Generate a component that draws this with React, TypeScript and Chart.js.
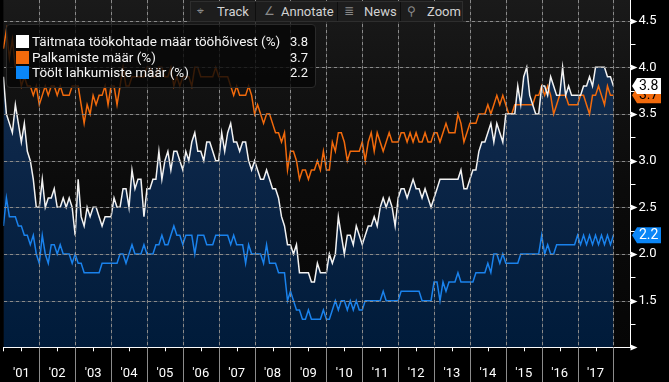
import React, { useEffect, useRef } from 'react';
import { Chart, registerables } from 'chart.js';

Chart.register(...registerables);

// Monthly series, Jan 2001 onward (index = month number)
const openings = [
  3.9, 3.5, 3.4, 3.3, 3.6, 3.4, 3.2, 3.4, 3.1, 3.0,
  2.8, 2.5, 2.5, 2.8, 2.5, 2.6, 2.6, 2.7, 2.5, 2.5,
  2.6, 2.5, 2.6, 2.5, 2.2, 2.8, 2.4, 2.3, 2.5, 2.4,
  2.5, 2.5, 2.4, 2.3, 2.4, 2.4, 2.4, 2.6, 2.5, 2.5,
  2.7, 2.7, 2.5, 2.9, 2.7, 2.8, 2.8, 2.4, 2.7, 2.7,
  2.8, 2.8, 3.1, 2.8, 3.0, 3.1, 2.9, 3.1, 3.1, 3.0,
  2.9, 3.1, 3.0, 3.2, 3.3, 3.1, 3.1, 3.0, 3.2, 3.2,
  3.1, 3.0, 3.0, 3.3, 3.1, 3.3, 3.4, 3.2, 3.2, 3.1,
  3.2, 3.2, 3.0, 2.9, 3.0, 2.9, 2.8, 2.8, 2.9, 2.8,
  2.7, 2.7, 2.6, 2.4, 2.3, 2.1, 2.1, 2.0, 2.1, 1.8,
  1.8, 1.8, 1.8, 1.7, 1.7, 1.9, 1.8, 1.8, 1.8, 2.0,
  1.9, 2.0, 2.4, 2.2, 2.0, 2.2, 2.2, 2.1, 2.3, 2.2,
  2.1, 2.2, 2.3, 2.3, 2.4, 2.3, 2.5, 2.6, 2.5, 2.6,
  2.5, 2.3, 2.6, 2.7, 2.7, 2.6, 2.7, 2.8, 2.7, 2.7,
  2.6, 2.7, 2.6, 2.5, 2.6, 2.7, 2.8, 2.8, 2.8, 2.8,
  2.8, 2.8, 2.8, 2.9, 2.7, 2.7, 2.8, 2.9, 2.9, 3.1,
  3.2, 3.2, 3.3, 3.4, 3.2, 3.4, 3.3, 3.2, 3.5, 3.5,
  3.5, 3.5, 3.8, 3.6, 3.9, 4.0, 3.7, 3.6, 3.5, 3.5,
  3.8, 3.8, 3.7, 3.9, 3.8, 3.7, 3.7, 4.0, 3.7, 3.8,
  3.7, 3.7, 3.7, 3.7, 3.8, 3.8, 3.9, 3.8, 4.0, 4.0,
  4.0, 4.0, 3.9, 3.9, 3.8,
];

const hires = [
  4.2, 4.4, 4.1, 4.3, 4.0, 4.0, 3.8, 3.9, 3.8, 3.8,
  3.7, 3.8, 3.6, 3.7, 3.8, 3.7, 3.8, 3.8, 3.7, 3.8,
  3.7, 3.7, 3.7, 3.8, 3.8, 3.8, 3.6, 3.4, 3.6, 3.5,
  3.7, 3.6, 3.7, 3.7, 3.8, 3.6, 3.8, 3.8, 3.6, 3.8,
  4.0, 3.8, 3.8, 3.9, 3.9, 3.9, 3.9, 3.9, 4.0, 4.0,
  3.9, 3.9, 4.0, 4.0, 3.9, 3.9, 4.0, 3.8, 3.9, 3.8,
  3.9, 3.9, 3.9, 3.8, 4.0, 4.0, 3.9, 3.9, 3.9, 3.9,
  3.9, 4.0, 3.9, 3.9, 3.9, 3.9, 3.8, 3.7, 3.8, 3.7,
  3.7, 3.7, 3.8, 3.7, 3.5, 3.6, 3.5, 3.4, 3.5, 3.5,
  3.4, 3.3, 3.3, 3.2, 3.3, 2.9, 3.1, 3.1, 3.0, 2.8,
  2.9, 2.9, 2.8, 2.9, 2.9, 3.0, 2.9, 3.1, 2.9, 2.9,
  3.2, 3.1, 3.3, 3.3, 3.2, 3.0, 3.1, 3.1, 3.1, 3.1,
  3.2, 3.0, 3.2, 3.3, 3.1, 3.3, 3.2, 3.1, 3.2, 3.3,
  3.2, 3.2, 3.2, 3.3, 3.3, 3.2, 3.3, 3.2, 3.3, 3.2,
  3.2, 3.3, 3.2, 3.2, 3.3, 3.3, 3.2, 3.3, 3.4, 3.3,
  3.3, 3.3, 3.5, 3.4, 3.2, 3.3, 3.4, 3.4, 3.4, 3.5,
  3.5, 3.5, 3.6, 3.5, 3.6, 3.7, 3.6, 3.7, 3.6, 3.5,
  3.5, 3.6, 3.6, 3.6, 3.6, 3.6, 3.6, 3.6, 3.7, 3.7,
  3.8, 3.7, 3.8, 3.7, 3.5, 3.6, 3.7, 3.7, 3.7, 3.6,
  3.6, 3.6, 3.6, 3.7, 3.7, 3.6, 3.5, 3.7, 3.7, 3.8,
  3.7, 3.6, 3.8, 3.7, 3.7,
];

const quits = [
  2.3, 2.6, 2.4, 2.4, 2.4, 2.3, 2.3, 2.2, 2.2, 2.1,
  2.2, 2.0, 1.9, 2.2, 2.0, 1.9, 2.1, 2.1, 2.0, 2.1,
  2.0, 2.0, 2.0, 1.9, 2.0, 1.9, 1.9, 1.8, 1.8, 1.8,
  1.8, 1.8, 1.8, 1.9, 1.9, 1.9, 1.9, 1.9, 1.9, 2.0,
  2.0, 1.9, 2.0, 2.1, 2.0, 2.0, 2.0, 2.1, 2.0, 2.0,
  2.0, 2.1, 2.1, 2.2, 2.1, 2.1, 2.2, 2.3, 2.2, 2.2,
  2.1, 2.2, 2.2, 2.2, 2.0, 2.2, 2.2, 2.2, 2.1, 2.1,
  2.1, 2.2, 2.2, 2.2, 2.2, 2.2, 2.1, 2.2, 2.1, 2.1,
  2.1, 1.9, 2.1, 2.0, 2.0, 2.0, 2.0, 1.9, 2.1, 1.9,
  1.9, 1.9, 1.8, 1.8, 1.8, 1.5, 1.6, 1.5, 1.4, 1.4,
  1.3, 1.3, 1.4, 1.3, 1.3, 1.3, 1.3, 1.4, 1.3, 1.3,
  1.4, 1.5, 1.4, 1.5, 1.5, 1.4, 1.5, 1.4, 1.5, 1.4,
  1.4, 1.5, 1.5, 1.5, 1.5, 1.5, 1.5, 1.6, 1.5, 1.5,
  1.5, 1.5, 1.5, 1.6, 1.6, 1.6, 1.6, 1.6, 1.6, 1.6,
  1.5, 1.5, 1.5, 1.5, 1.7, 1.7, 1.5, 1.7, 1.6, 1.7,
  1.7, 1.7, 1.8, 1.7, 1.7, 1.7, 1.7, 1.7, 1.8, 1.8,
  1.8, 1.8, 1.9, 1.8, 2.0, 2.0, 1.9, 2.0, 1.9, 1.9,
  1.9, 1.9, 1.9, 2.0, 2.0, 2.0, 2.0, 2.0, 2.0, 2.0,
  2.2, 2.0, 2.1, 2.0, 2.0, 2.1, 2.1, 2.1, 2.1, 2.1,
  2.1, 2.1, 2.2, 2.1, 2.2, 2.1, 2.2, 2.1, 2.2, 2.1,
  2.2, 2.1, 2.2, 2.1, 2.2,
];

const seriesNames = [
  'Täitmata töökohtade määr tööhõivest (%)',
  'Palkamiste määr (%)',
  'Töölt lahkumiste määr (%)',
];
const yearLabels = ["'01", "'02", "'03", "'04", "'05", "'06", "'07", "'08", "'09", "'10", "'11", "'12", "'13", "'14", "'15", "'16", "'17"];
const yTickValues = [1.0, 1.25, 1.5, 1.75, 2.0, 2.25, 2.5, 2.75, 3.0, 3.25, 3.5, 3.75, 4.0, 4.25, 4.5];
const toolbarItems = ['Track', 'Annotate', 'News', 'Zoom'];

const WHITE = '#f2f2f2';
const ORANGE = '#f26a0c';
const BLUE = '#1a82ec';
const FONT = 'Roboto';
const GRID_BASE = 'rgba(120,120,120,0.35)';
const GRID_DASH = '#8a8a8a';

const isHalf = (v: number) => Math.abs(v * 2 - Math.round(v * 2)) < 1e-6;

const bgPlugin = {
  id: 'bg',
  beforeDraw(chart: any) {
    const { ctx, chartArea: a } = chart;
    ctx.save();
    ctx.fillStyle = '#000';
    ctx.fillRect(0, 0, chart.width, chart.height);
    const g = ctx.createLinearGradient(0, a.top, 0, a.bottom);
    g.addColorStop(0, '#1a1a1a');
    g.addColorStop(0.25, '#121212');
    g.addColorStop(0.55, '#0b0b0b');
    g.addColorStop(1, '#060606');
    ctx.fillStyle = g;
    ctx.fillRect(a.left, a.top, a.right - a.left, a.bottom - a.top);
    ctx.restore();
  },
};

// grid: a faint continuous line with brighter dashes on it, placed through the scales
const gridPlugin = {
  id: 'dashGrid',
  afterDatasetsDraw(chart: any) {
    const { ctx, chartArea: a, scales } = chart;
    const x = scales.x;
    const y = scales.y;
    ctx.save();
    const top = Math.ceil(a.top);
    const bottom = Math.floor(a.bottom) - 1;
    const left = Math.ceil(a.left);
    const right = Math.floor(a.right) - 1;
    for (let v = 12; v <= 204; v += 12) {
      const px = Math.round(x.getPixelForValue(v));
      ctx.fillStyle = GRID_BASE;
      ctx.fillRect(px, top, 1, bottom - top);
      ctx.fillStyle = GRID_DASH;
      for (let yy = top; yy < bottom; yy += 6) ctx.fillRect(px, yy, 1, 3);
    }
    for (const v of yTickValues) {
      if (!isHalf(v) || v < 1.5) continue;
      const py = Math.round(y.getPixelForValue(v));
      ctx.fillStyle = GRID_BASE;
      ctx.fillRect(left, py, right - left, 1);
      ctx.fillStyle = GRID_DASH;
      for (let xx = left; xx < right; xx += 6) ctx.fillRect(xx, py, 3, 1);
    }
    ctx.restore();
  },
};

function drawTag(ctx: any, yPix: number, text: string, bg: string, fg: string) {
  const tip = 632;
  const left = 637;
  const right = 661;
  const h = 8;
  ctx.beginPath();
  ctx.moveTo(tip, yPix);
  ctx.lineTo(left, yPix - h);
  ctx.lineTo(right, yPix - h);
  ctx.lineTo(right, yPix + h);
  ctx.lineTo(left, yPix + h);
  ctx.closePath();
  ctx.fillStyle = bg;
  ctx.fill();
  ctx.fillStyle = fg;
  ctx.font = `14px ${FONT}`;
  ctx.textAlign = 'left';
  ctx.textBaseline = 'middle';
  ctx.fillText(text, 639, yPix + 0.5);
}

const decorPlugin = {
  id: 'decor',
  afterDraw(chart: any) {
    const { ctx, chartArea: a, scales } = chart;
    const x = scales.x;
    const y = scales.y;
    ctx.save();
    ctx.lineWidth = 1;
    // x-axis tick marks
    for (let v = 0; v <= 204; v += 6) {
      const px = Math.round(x.getPixelForValue(v)) + 0.5;
      ctx.beginPath();
      if (v % 12 === 0 && v > 0) {
        ctx.strokeStyle = '#8c8c8c';
        ctx.moveTo(px, a.bottom);
        ctx.lineTo(px, chart.height);
      } else {
        ctx.strokeStyle = '#ffffff';
        ctx.moveTo(px, a.bottom);
        ctx.lineTo(px, a.bottom + 4);
      }
      ctx.stroke();
    }
    // y-axis tick marks
    ctx.fillStyle = '#ffffff';
    ctx.strokeStyle = '#ffffff';
    for (const v of yTickValues) {
      const py = Math.round(y.getPixelForValue(v)) + 0.5;
      if (isHalf(v)) {
        ctx.beginPath();
        ctx.moveTo(a.right, py - 3);
        ctx.lineTo(a.right + 7, py);
        ctx.lineTo(a.right, py + 3);
        ctx.closePath();
        ctx.fill();
      } else {
        ctx.beginPath();
        ctx.moveTo(a.right, py);
        ctx.lineTo(a.right + 5, py);
        ctx.stroke();
      }
    }
    // last value tags
    const lastO = openings[openings.length - 1];
    const lastH = hires[hires.length - 1];
    const lastQ = quits[quits.length - 1];
    drawTag(ctx, y.getPixelForValue(lastH), lastH.toFixed(1), ORANGE, '#000');
    drawTag(ctx, y.getPixelForValue(lastO), lastO.toFixed(1), '#ffffff', '#000');
    drawTag(ctx, y.getPixelForValue(lastQ), lastQ.toFixed(1), '#0a86f7', '#ffffff');
    ctx.restore();
  },
};

export default function App() {
  const canvasRef = useRef<HTMLCanvasElement | null>(null);

  useEffect(() => {
    document.body.style.margin = '0';
    document.body.style.background = '#000';
    const canvas = canvasRef.current;
    if (!canvas) return;
    Chart.defaults.font.family = FONT;

    const toPts = (arr: number[]) => arr.map((v, i) => ({ x: i, y: v }));

    const chart = new Chart(canvas, {
      type: 'line',
      data: {
        datasets: [
          {
            label: seriesNames[0],
            data: toPts(openings),
            borderColor: WHITE,
            borderWidth: 1.5,
            pointRadius: 0,
            tension: 0,
            fill: 'start',
            backgroundColor: (c: any) => {
              const ch = c.chart;
              const a = ch.chartArea;
              if (!a) return 'rgba(10,36,70,1)';
              const g = ch.ctx.createLinearGradient(0, a.top, 0, a.bottom);
              g.addColorStop(0, '#173252');
              g.addColorStop(0.45, '#0c2648');
              g.addColorStop(1, '#001b3a');
              return g;
            },
          },
          {
            label: seriesNames[1],
            data: toPts(hires),
            borderColor: ORANGE,
            borderWidth: 1.5,
            pointRadius: 0,
            tension: 0,
            fill: false,
          },
          {
            label: seriesNames[2],
            data: toPts(quits),
            borderColor: BLUE,
            borderWidth: 1.5,
            pointRadius: 0,
            tension: 0,
            fill: false,
          },
        ],
      },
      options: {
        animation: false,
        responsive: false,
        maintainAspectRatio: false,
        devicePixelRatio: 1,
        layout: { padding: { left: 3.4, right: 0, top: 0, bottom: 0 } },
        plugins: {
          legend: { display: false },
          tooltip: { enabled: false },
          filler: { drawTime: 'beforeDatasetsDraw' },
        } as any,
        scales: {
          x: {
            type: 'linear',
            position: 'bottom',
            min: 0,
            max: 209.7,
            afterFit: (s: any) => {
              s.height = 34.7;
              s.paddingLeft = 0;
              s.paddingRight = 0;
            },
            afterBuildTicks: (s: any) => {
              const t = [];
              for (let v = 0; v <= 204; v += 6) t.push({ value: v });
              s.ticks = t;
            },
            ticks: {
              autoSkip: false,
              maxRotation: 0,
              padding: 19,
              color: '#ffffff',
              font: { family: FONT, size: 13 },
              callback: (v: any) => {
                const n = Number(v);
                return n % 12 === 6 ? yearLabels[(n - 6) / 12] : '';
              },
            },
            grid: { display: false, drawTicks: false },
            border: { display: true, color: '#ffffff', width: 1 },
          },
          y: {
            type: 'linear',
            position: 'right',
            min: 1,
            max: 4.722,
            afterFit: (s: any) => {
              s.width = 38.5;
              s.paddingTop = 0;
              s.paddingBottom = 0;
            },
            afterBuildTicks: (s: any) => {
              s.ticks = yTickValues.map((v) => ({ value: v }));
            },
            ticks: {
              padding: 8,
              color: '#ffffff',
              font: { family: FONT, size: 13 },
              callback: (v: any) => {
                const n = Number(v);
                return isHalf(n) && n >= 1.5 ? n.toFixed(1) : '';
              },
            },
            grid: { display: false, drawTicks: false },
            border: { display: true, color: '#ffffff', width: 1 },
          },
        },
      } as any,
      plugins: [bgPlugin, gridPlugin, decorPlugin],
    });

    return () => {
      chart.destroy();
    };
  }, []);

  const legendRows = [
    { color: '#ffffff', name: seriesNames[0], value: openings[openings.length - 1].toFixed(1) },
    { color: ORANGE, name: seriesNames[1], value: hires[hires.length - 1].toFixed(1) },
    { color: '#0a86f7', name: seriesNames[2], value: quits[quits.length - 1].toFixed(1) },
  ];

  const tbPos = [
    { left: 191, width: 64, icon: '⌖', iconX: 6, textX: 26 },
    { left: 256, width: 81, icon: '∠', iconX: 8, textX: 25 },
    { left: 338, width: 62, icon: '≣', iconX: 6, textX: 26 },
    { left: 401, width: 61, icon: '⚲', iconX: 6, textX: 26 },
  ];

  return (
    <div style={{ position: 'fixed', left: 0, top: 0, width: 669, height: 382, background: '#000', overflow: 'hidden', fontFamily: FONT }}>
      <canvas ref={canvasRef} width={669} height={382} style={{ position: 'absolute', left: 0, top: 0, width: 669, height: 382 }} />
      <div style={{ position: 'absolute', left: 190, top: 1, width: 273, height: 21, background: '#0e0e0e', border: '1px solid #2e2e2e', boxSizing: 'border-box' }} />
      {toolbarItems.map((t, i) => (
        <div
          key={t}
          style={{ position: 'absolute', left: tbPos[i].left, top: 2, width: tbPos[i].width, height: 19, background: '#1d1d1d', color: '#d2d2d2', fontSize: 13, lineHeight: '19px' }}
        >
          <span style={{ position: 'absolute', left: tbPos[i].iconX, top: 0, color: '#8a8a8a', fontFamily: 'DejaVu Sans', fontSize: 12 }}>{tbPos[i].icon}</span>
          <span style={{ position: 'absolute', left: tbPos[i].textX, top: 0 }}>{t}</span>
        </div>
      ))}
      <div
        style={{ position: 'absolute', left: 6, top: 24, width: 310, height: 64, background: 'rgba(6,6,6,0.8)', border: '1px solid #2a2a2a', borderRadius: 4, boxSizing: 'border-box' }}
      >
        {legendRows.map((r, i) => (
          <div key={r.name} style={{ position: 'absolute', left: 0, top: 9 + i * 15.5, width: 308, height: 15, color: '#f4f4f4', fontSize: 13.5, lineHeight: '15px' }}>
            <div style={{ position: 'absolute', left: 9, top: 1, width: 13, height: 13, background: r.color }} />
            <span style={{ position: 'absolute', left: 25, top: 0, whiteSpace: 'nowrap' }}>{r.name}</span>
            <span style={{ position: 'absolute', right: 7, top: 0, fontSize: 13 }}>{r.value}</span>
          </div>
        ))}
      </div>
    </div>
  );
}
